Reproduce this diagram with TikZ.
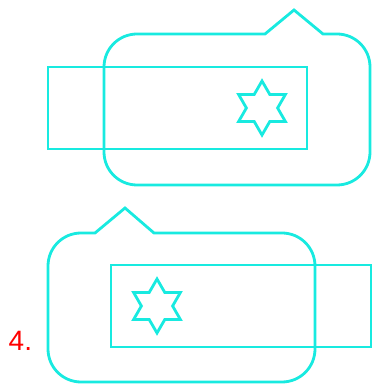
\documentclass[tikz,border=0pt]{standalone}
\usepackage{fontspec}
\setmainfont{Liberation Sans}
\definecolor{cyanline}{RGB}{24,234,224}
\definecolor{labelred}{RGB}{255,0,0}
\tikzset{
  outline/.style={draw=cyanline,line width=2.8pt,line join=miter},
  starshape/.style={draw=cyanline,line width=2.8pt,line join=miter}
}
\begin{document}
\begin{tikzpicture}[x=1pt,y=1pt]
\useasboundingbox (0,0) rectangle (373,385);
% ---- top group ----
\draw[outline] (48,236) rectangle (307,318);
\draw[outline] (265,351) -- (294,375) -- (323,351) -- (337,351)
  arc[start angle=90,end angle=0,radius=33] -- (370,233)
  arc[start angle=0,end angle=-90,radius=33] -- (137,200)
  arc[start angle=270,end angle=180,radius=33] -- (104,318)
  arc[start angle=180,end angle=90,radius=33] -- cycle;
\draw[starshape] (262,277) +(0,27) -- +(7.8,13.51) -- +(23.38,13.5) -- +(15.6,0) -- +(23.38,-13.5) -- +(7.8,-13.51) -- +(0,-27) -- +(-7.8,-13.51) -- +(-23.38,-13.5) -- +(-15.6,0) -- +(-23.38,13.5) -- +(-7.8,13.51) -- cycle;
% ---- bottom group ----
\draw[outline] (111,38) rectangle (371,120);
\draw[outline] (95,152) -- (125,177) -- (154,152) -- (282,152)
  arc[start angle=90,end angle=0,radius=33] -- (315,36)
  arc[start angle=0,end angle=-90,radius=33] -- (81,3)
  arc[start angle=270,end angle=180,radius=33] -- (48,119)
  arc[start angle=180,end angle=90,radius=33] -- cycle;
\draw[starshape] (157,79) +(0,27) -- +(7.8,13.51) -- +(23.38,13.5) -- +(15.6,0) -- +(23.38,-13.5) -- +(7.8,-13.51) -- +(0,-27) -- +(-7.8,-13.51) -- +(-23.38,-13.5) -- +(-15.6,0) -- +(-23.38,13.5) -- +(-7.8,13.51) -- cycle;
\node[anchor=base west,inner sep=0pt,text=labelred,font=\fontsize{28}{30}\selectfont] (label) at (8.5,34) {4.};
\end{tikzpicture}
\end{document}
